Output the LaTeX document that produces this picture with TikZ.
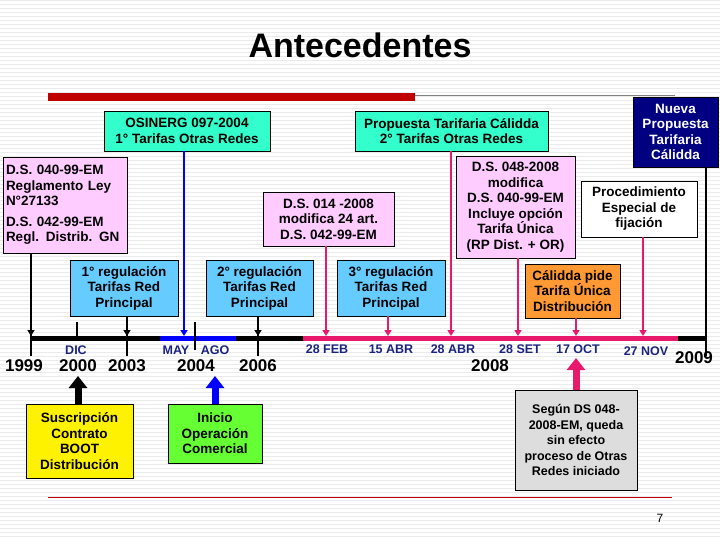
\documentclass[tikz,border=0pt]{standalone}
\usepackage{fontspec}
\setmainfont{Liberation Sans}
\usetikzlibrary{arrows.meta}
\definecolor{teal1}{HTML}{33FFCC}
\definecolor{pink1}{HTML}{FFCCFF}
\definecolor{blue1}{HTML}{66CCFF}
\definecolor{navy1}{HTML}{000080}
\definecolor{orange1}{HTML}{FF9933}
\definecolor{green1}{HTML}{66FF33}
\definecolor{gray1}{HTML}{DDDDDD}
\definecolor{mag}{HTML}{E8186A}
\definecolor{dred}{HTML}{C00000}
\definecolor{lab}{HTML}{1A237E}
\tikzset{
 box/.style={draw=black,line width=0.6pt,align=center,inner sep=1pt,font=\fontsize{13.5}{15.5}\selectfont\bfseries},
 mon/.style={font=\fontsize{12.5}{13}\selectfont\bfseries,text=lab},
 yr/.style={font=\fontsize{17}{18}\selectfont\bfseries},
 bk/.style={line width=2.5pt,-{Triangle[length=6pt,width=7pt]}},
 pk/.style={draw=mag,line width=2.5pt,-{Triangle[length=6pt,width=7pt]}},
 fat/.style={line width=7pt,-{Triangle[length=12pt,width=18pt]}}
}
\begin{document}
\begin{tikzpicture}[x=1pt,y=-1pt]
\useasboundingbox (0,0) rectangle (720,540);
\foreach \y in {0,4,...,540} \draw[black!8,line width=0.5pt] (0,\y)--(720,\y);
\node[font=\fontsize{34}{36}\selectfont\bfseries] (title) at (360,45) {Antecedentes};
\fill[dred] (48,93) rectangle (415,101);
\draw[black!50,line width=0.8pt] (415,95)--(675,95);
\draw[dred,line width=0.8pt] (48,497)--(672,497);
\node[font=\fontsize{12}{13}\selectfont] (pg) at (660,518) {7};
% boxes
\node[box,fill=teal1,minimum width=166pt,minimum height=40pt] (osi) at (187,131) {OSINERG 097-2004\\1° Tarifas Otras Redes};
\node[box,fill=teal1,minimum width=193pt,minimum height=40pt] (prop) at (451.5,131) {Propuesta Tarifaria Cálidda\\2° Tarifas Otras Redes};
\node[box,fill=navy1,text=white,minimum width=85pt,minimum height=70pt] (nueva) at (675.5,132) {Nueva\\Propuesta\\Tarifaria\\Cálidda};
\node[box,fill=pink1,minimum width=124pt,minimum height=96pt,align=left,text width=118pt] (ds040) at (65,205) {D.S. 040-99-EM\\Reglamento Ley\\N°27133\\[5pt]D.S. 042-99-EM\\Regl. Distrib. GN};
\node[box,fill=pink1,minimum width=131pt,minimum height=54pt] (ds014) at (328.5,219) {D.S. 014 -2008\\modifica 24 art.\\D.S. 042-99-EM};
\node[box,fill=pink1,minimum width=119pt,minimum height=102pt] (ds048) at (515.5,207) {D.S. 048-2008\\modifica\\D.S. 040-99-EM\\Incluye opción\\Tarifa Única\\(RP Dist. + OR)};
\node[box,fill=white,minimum width=116pt,minimum height=56pt] (proc) at (639,209) {Procedimiento\\Especial de\\fijación};
\node[box,fill=blue1,minimum width=108pt,minimum height=56pt] (r1) at (124,288) {1° regulación\\Tarifas Red\\Principal};
\node[box,fill=blue1,minimum width=107pt,minimum height=56pt] (r2) at (259.5,288) {2° regulación\\Tarifas Red\\Principal};
\node[box,fill=blue1,minimum width=108pt,minimum height=56pt] (r3) at (391,288) {3° regulación\\Tarifas Red\\Principal};
\node[box,fill=orange1,minimum width=95pt,minimum height=54pt] (cal) at (572.5,291) {Cálidda pide\\Tarifa Única\\Distribución};
\node[box,fill=yellow,minimum width=107pt,minimum height=74pt] (sus) at (79.5,441) {Suscripción\\Contrato\\BOOT\\Distribución};
\node[box,fill=green1,minimum width=94pt,minimum height=59pt] (ini) at (215,433.5) {Inicio\\Operación\\Comercial};
\node[box,fill=gray1,minimum width=122pt,minimum height=100pt,font=\fontsize{12.5}{15.5}\selectfont\bfseries] (seg) at (576,440) {Según DS 048-\\2008-EM, queda\\sin efecto\\proceso de Otras\\Redes iniciado};
% timeline
\coordinate (t0) at (30,338); \coordinate (t1) at (706,338);
\draw[line width=5pt] (t0)--(t1);
\draw[blue,line width=5pt] (160,338)--(236,338);
\draw[mag,line width=5pt] (303,338)--(678,338);
\foreach \x in {31,127,258,706} \draw[line width=2pt] (\x,322)--(\x,356);
\draw[line width=2pt] (77,322)--(77,338);
\draw[line width=2pt] (195,322)--(195,350);
\coordinate (a1999) at (31,336); \coordinate (a2003) at (127,336);
\coordinate (a2004) at (184,336); \coordinate (a2006) at (258,336);
\coordinate (a2009) at (706,336);
\draw[bk] (ds040.south -| a1999) -- (a1999);
\draw[bk] (r1.south -| a2003) -- (a2003);
\draw[bk,draw=blue] (osi.south -| a2004) -- (a2004);
\draw[bk] (r2.south -| a2006) -- (a2006);
\draw[line width=2.5pt] (nueva.south -| a2009) -- (a2009);
\foreach \n/\x in {ds014/326,r3/388,prop/451,ds048/518,cal/576,proc/643}{
 \coordinate (p\n) at (\x,336);
 \draw[pk] (\n.south -| p\n) -- (p\n);}
% labels
\node[mon] (l1) at (76,350) {DIC};
\node[mon] (l2) at (176,350) {MAY};
\node[mon] (l3) at (215,350) {AGO};
\node[mon] (l4) at (327,349) {28 FEB};
\node[mon] (l5) at (391,349) {15 ABR};
\node[mon] (l6) at (453,349) {28 ABR};
\node[mon] (l7) at (520,349) {28 SET};
\node[mon] (l8) at (578,349) {17 OCT};
\node[mon] (l9) at (646,351) {27 NOV};
\node[yr] (y1) at (24,366) {1999};
\node[yr] (y2) at (78,366) {2000};
\node[yr] (y3) at (127,366) {2003};
\node[yr] (y4) at (196,366) {2004};
\node[yr] (y5) at (258,366) {2006};
\node[yr] (y6) at (490,366) {2008};
\node[yr] (y7) at (694,358) {2009};
% fat arrows
\draw[fat] (sus.north -| y2) -- (78,376);
\draw[fat,draw=blue,fill=blue] (ini.north) -- (215,376);
\draw[fat,draw=mag,fill=mag] (seg.north) -- (576,358);
\end{tikzpicture}
\end{document}
